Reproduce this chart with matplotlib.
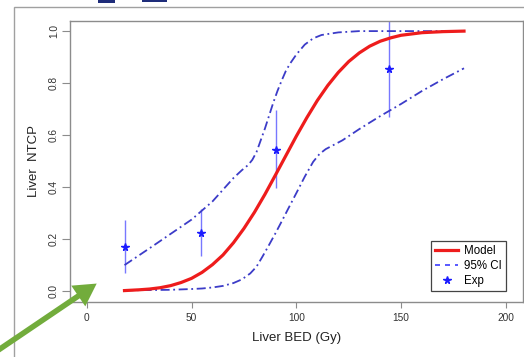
import matplotlib.pyplot as plt
import matplotlib.patches as mpatches
from matplotlib.lines import Line2D

plt.rcParams['font.family'] = ['Liberation Sans', 'DejaVu Sans']

# model NTCP curve
model_bed = [18, 25, 30, 35, 40, 45, 50, 55, 60, 65, 70, 75, 80, 85, 90,
             95, 100, 105, 110, 115, 120, 125, 130, 135, 140, 145, 150,
             160, 170, 180]
model_ntcp = [0.002, 0.005, 0.008, 0.013, 0.021, 0.033, 0.049, 0.072, 0.102,
              0.139, 0.186, 0.241, 0.303, 0.372, 0.446, 0.521, 0.596, 0.667,
              0.733, 0.791, 0.841, 0.883, 0.916, 0.942, 0.961, 0.974, 0.984,
              0.994, 0.998, 1.0]

# 95% CI band
ci_up_bed = [18, 30, 40, 50, 60, 65, 70, 74, 77, 79, 81, 83, 85, 87, 89,
             91, 93, 95, 97, 100, 104, 108, 112, 120, 130, 150, 180]
ci_up = [0.10, 0.165, 0.22, 0.275, 0.345, 0.39, 0.435, 0.465, 0.485, 0.505,
         0.535, 0.58, 0.625, 0.675, 0.725, 0.77, 0.81, 0.847, 0.875, 0.91,
         0.948, 0.972, 0.985, 0.995, 1.0, 1.0, 1.0]
ci_low_bed = [18, 30, 40, 50, 55, 60, 65, 70, 74, 78, 81, 84, 87, 90, 93,
              96, 100, 104, 108, 111, 114, 118, 122, 130, 140, 150, 160,
              170, 180]
ci_low = [0.003, 0.004, 0.005, 0.008, 0.01, 0.014, 0.02, 0.031, 0.045, 0.068,
          0.094, 0.135, 0.178, 0.222, 0.268, 0.315, 0.377, 0.44, 0.497,
          0.527, 0.546, 0.563, 0.58, 0.623, 0.673, 0.72, 0.77, 0.815, 0.857]

# experimental points with error bars
exp_bed = [18.4, 54.3, 90.5, 144.4]
exp_ntcp = [0.168, 0.224, 0.542, 0.854]
exp_low = [0.070, 0.136, 0.395, 0.668]
exp_high = [0.273, 0.314, 0.696, 1.04]

xticks = [0, 50, 100, 150, 200]
yticks = [0.0, 0.2, 0.4, 0.6, 0.8, 1.0]

fig = plt.figure(figsize=(5.24, 3.57), dpi=100)

# slide frame + bits of the slide title cut off at the top
fig.add_artist(mpatches.Rectangle((14 / 524, -0.1), 1.0, 1.08, transform=fig.transFigure,
                                  fill=False, edgecolor='#a0a0a0', lw=1.0))
fig.add_artist(mpatches.Rectangle((98 / 524, 354 / 357), 17 / 524, 0.02,
                                  transform=fig.transFigure, color='#1f2d7a', lw=0))
fig.add_artist(mpatches.Rectangle((142 / 524, 355 / 357), 25 / 524, 0.02,
                                  transform=fig.transFigure, color='#1f2d7a', lw=0))

ax = fig.add_axes([0.1336, 0.154, 0.8639, 0.788])

ax.vlines(exp_bed, exp_low, exp_high, color='#7878ff', lw=1.0)
ax.plot(ci_up_bed, ci_up, color='#3c3cc8', lw=1.3, dashes=(5, 2, 1, 2))
ax.plot(ci_low_bed, ci_low, color='#3c3cc8', lw=1.3, dashes=(5, 2, 1, 2))
ax.plot(model_bed, model_ntcp, color='#ee1c1c', lw=2.3)
ax.plot(exp_bed, exp_ntcp, '*', color='#1c1cff', ms=5.5, mec='#1c1cff')

ax.set_xlim(-8, 208)
ax.set_ylim(-0.042, 1.04)
ax.set_xticks(xticks)
ax.set_xticklabels([str(t) for t in xticks])
ax.set_yticks(yticks)
ax.set_yticklabels(['%.1f' % t for t in yticks], rotation=90, va='center')

for sp in ax.spines.values():
    sp.set_color('#8c8c8c')
    sp.set_linewidth(1.0)
ax.tick_params(axis='x', length=4, width=0.8, color='#8c8c8c', pad=4,
               labelsize=7.3, labelcolor='#333333')
ax.tick_params(axis='y', length=6, width=0.8, color='#8c8c8c', pad=2,
               labelsize=7.3, labelcolor='#333333')

ax.set_xlabel('Liver BED (Gy)', fontsize=9.5, color='#222222')
ax.xaxis.set_label_coords(0.5, -0.108)
ax.set_ylabel('Liver  NTCP', fontsize=9.5, color='#222222')
ax.yaxis.set_label_coords(-0.067, 0.5)

handles = [
    Line2D([], [], color='#ee1c1c', lw=2.3),
    Line2D([], [], color='#3c3cff', lw=1.2, dashes=(3, 3)),
    Line2D([], [], color='#1c1cff', marker='*', ls='none', ms=5.5),
]
leg = ax.legend(handles, ['Model', '95% CI', 'Exp'], loc='lower right',
                bbox_to_anchor=(0.963, 0.040), borderaxespad=0, fontsize=8.3,
                fancybox=False, framealpha=1, edgecolor='#444444',
                handlelength=2.0, handletextpad=0.5, labelspacing=0.25,
                borderpad=0.35)
leg.get_frame().set_linewidth(0.9)

# green pointer arrow from the slide
arrow = mpatches.FancyArrowPatch((-6 / 524, 4 / 357), (99 / 524, 75 / 357),
                                 transform=fig.transFigure,
                                 arrowstyle='simple,head_width=0.9,head_length=0.8,tail_width=0.2',
                                 mutation_scale=20, color='#72ac3c', lw=0)
fig.add_artist(arrow)

fig.savefig('out.png', dpi=100)
